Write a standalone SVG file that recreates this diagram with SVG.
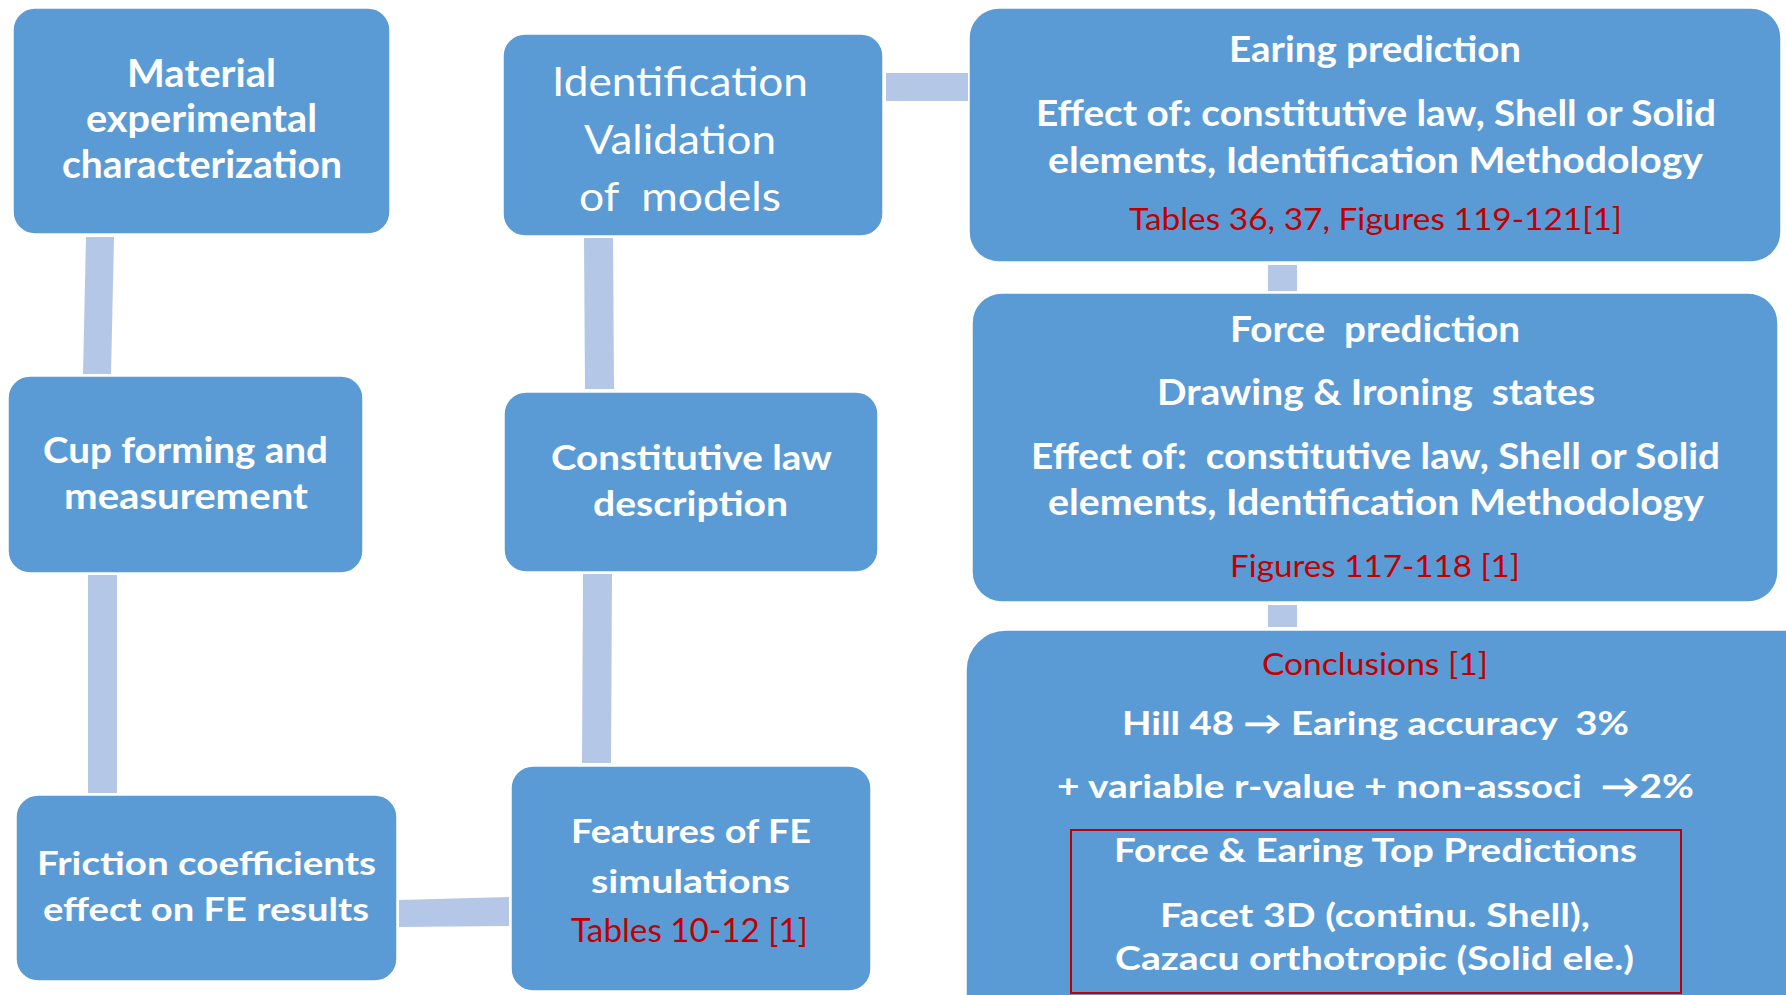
<svg xmlns="http://www.w3.org/2000/svg" width="1786" height="995" viewBox="0 0 1786 995">
<style>
.box{fill:#5B9BD5;stroke:#ffffff;stroke-width:1.5}
.con{fill:#B4C7E7}
text{font-family:Lato,"Open Sans","Liberation Sans",sans-serif;text-anchor:middle;white-space:pre}
.b{font-weight:bold;fill:#ffffff}
.w{font-weight:normal;fill:#ffffff}
.r{font-weight:normal;fill:#C00000}
</style>
<rect width="1786" height="995" fill="#ffffff"/>
<g id="connectors">
<polygon class="con" points="86,237 114,237 111,374 83,374"/>
<polygon class="con" points="584,238 613,238 614,389 585,389"/>
<polygon class="con" points="88,575 117,575 117,793 88,793"/>
<polygon class="con" points="583,574 612,574 611,763 582,763"/>
<polygon class="con" points="399,900 509,897 509,926 399,927"/>
<polygon class="con" points="886,73 968,73 968,101 886,101"/>
<polygon class="con" points="1268,265 1297,265 1297,291 1268,291"/>
<polygon class="con" points="1268,605 1297,605 1297,627 1268,627"/>
</g>
<g id="material">
<rect class="box" x="13" y="8" width="377" height="226" rx="22"/>
<text class="b" font-size="37.5" x="201.5" y="87" textLength="149" lengthAdjust="spacingAndGlyphs">Material</text>
<text class="b" font-size="37.5" x="201.5" y="132" textLength="231" lengthAdjust="spacingAndGlyphs">experimental</text>
<text class="b" font-size="37.5" x="202" y="178" textLength="280" lengthAdjust="spacingAndGlyphs">characterization</text>
</g>
<g id="identification">
<rect class="box" x="503" y="34" width="380" height="202" rx="22"/>
<text class="w" font-size="40" x="680" y="96" textLength="256" lengthAdjust="spacingAndGlyphs">Identification</text>
<text class="w" font-size="40" x="680" y="154" textLength="192" lengthAdjust="spacingAndGlyphs">Validation</text>
<text class="w" font-size="40" x="680" y="211" textLength="202" lengthAdjust="spacingAndGlyphs">of  models</text>
</g>
<g id="cup">
<rect class="box" x="8" y="376" width="355" height="197" rx="22"/>
<text class="b" font-size="37" x="185.5" y="463" textLength="285" lengthAdjust="spacingAndGlyphs">Cup forming and</text>
<text class="b" font-size="37" x="186" y="509" textLength="244" lengthAdjust="spacingAndGlyphs">measurement</text>
</g>
<g id="constitutive">
<rect class="box" x="504" y="392" width="374" height="180" rx="22"/>
<text class="b" font-size="35" x="691.5" y="470" textLength="281" lengthAdjust="spacingAndGlyphs">Constitutive law</text>
<text class="b" font-size="35" x="690.5" y="516" textLength="195" lengthAdjust="spacingAndGlyphs">description</text>
</g>
<g id="friction">
<rect class="box" x="16" y="795" width="381" height="186" rx="22"/>
<text class="b" font-size="33" x="206.5" y="875" textLength="339" lengthAdjust="spacingAndGlyphs">Friction coefficients</text>
<text class="b" font-size="33" x="206" y="921" textLength="326" lengthAdjust="spacingAndGlyphs">effect on FE results</text>
</g>
<g id="features">
<rect class="box" x="511" y="766" width="360" height="225" rx="22"/>
<text class="b" font-size="33" x="691" y="843" textLength="240" lengthAdjust="spacingAndGlyphs">Features of FE</text>
<text class="b" font-size="33" x="690.5" y="893" textLength="199" lengthAdjust="spacingAndGlyphs">simulations</text>
<text class="r" font-size="33" x="689.5" y="942" textLength="237" lengthAdjust="spacingAndGlyphs">Tables 10-12 [1]</text>
</g>
<g id="earing">
<rect class="box" x="969" y="8" width="812" height="254" rx="30"/>
<text class="b" font-size="36" x="1375" y="62" textLength="292" lengthAdjust="spacingAndGlyphs">Earing prediction</text>
<text class="b" font-size="36" x="1376" y="126" textLength="680" lengthAdjust="spacingAndGlyphs">Effect of: constitutive law, Shell or Solid</text>
<text class="b" font-size="36" x="1375.5" y="173" textLength="655" lengthAdjust="spacingAndGlyphs">elements, Identification Methodology</text>
<text class="r" font-size="31" x="1375.5" y="230" textLength="493" lengthAdjust="spacingAndGlyphs">Tables 36, 37, Figures 119-121[1]</text>
</g>
<g id="force">
<rect class="box" x="972" y="293" width="806" height="309" rx="30"/>
<text class="b" font-size="36" x="1375" y="342" textLength="290" lengthAdjust="spacingAndGlyphs">Force  prediction</text>
<text class="b" font-size="36" x="1376" y="405" textLength="438" lengthAdjust="spacingAndGlyphs">Drawing &amp; Ironing  states</text>
<text class="b" font-size="36" x="1375.5" y="469" textLength="689" lengthAdjust="spacingAndGlyphs">Effect of:  constitutive law, Shell or Solid</text>
<text class="b" font-size="36" x="1376" y="515" textLength="656" lengthAdjust="spacingAndGlyphs">elements, Identification Methodology</text>
<text class="r" font-size="31" x="1375" y="577" textLength="290" lengthAdjust="spacingAndGlyphs">Figures 117-118 [1]</text>
</g>
<g id="conclusions">
<rect class="box" x="966" y="630" width="864" height="410" rx="40"/>
<text class="r" font-size="31" x="1375" y="675" textLength="226" lengthAdjust="spacingAndGlyphs">Conclusions [1]</text>
<text class="b" font-size="33" x="1375.5" y="735" textLength="507" lengthAdjust="spacingAndGlyphs">Hill 48 → Earing accuracy  3%</text>
<text class="b" font-size="33" x="1375.5" y="798" textLength="637" lengthAdjust="spacingAndGlyphs">+ variable r-value + non-associ  →2%</text>
<rect x="1071" y="830" width="610" height="163" fill="none" stroke="#C00000" stroke-width="2"/>
<text class="b" font-size="33" x="1375.5" y="862" textLength="523" lengthAdjust="spacingAndGlyphs">Force &amp; Earing Top Predictions</text>
<text class="b" font-size="33" x="1375" y="927" textLength="430" lengthAdjust="spacingAndGlyphs">Facet 3D (continu. Shell),</text>
<text class="b" font-size="33" x="1374.5" y="970" textLength="519" lengthAdjust="spacingAndGlyphs">Cazacu orthotropic (Solid ele.)</text>
</g>
</svg>
